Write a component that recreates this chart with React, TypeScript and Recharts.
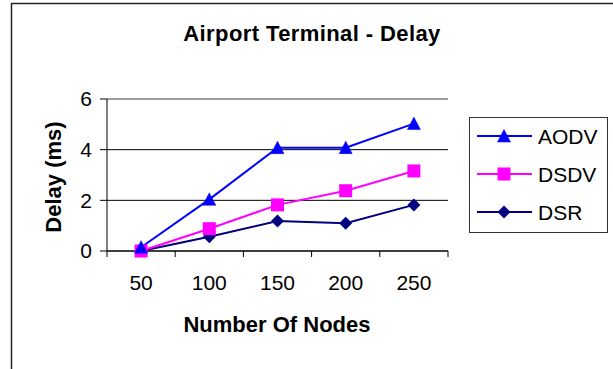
import React from 'react';
import {
  LineChart,
  Line,
  XAxis,
  YAxis,
  CartesianGrid,
  ReferenceLine,
  Legend,
} from 'recharts';

// values
const NODES = ['50', '100', '150', '200', '250'];
const AODV = [0.15, 2.04, 4.08, 4.08, 5.03];
const DSDV = [0, 0.88, 1.82, 2.38, 3.16];
const DSR = [0, 0.56, 1.18, 1.1, 1.82];
const Y_TICKS = [0, 2, 4, 6];

const SERIES = [
  { key: 'aodv', name: 'AODV', color: '#0000FF', shape: 'triangle' },
  { key: 'dsdv', name: 'DSDV', color: '#FF00FF', shape: 'square' },
  { key: 'dsr', name: 'DSR', color: '#000080', shape: 'diamond' },
];

const data = NODES.map((n, i) => ({ nodes: n, aodv: AODV[i], dsdv: DSDV[i], dsr: DSR[i] }));

const W = 613;
const H = 369;
const PLOT_LEFT = 107;
const PLOT_RIGHT = 448;
const PLOT_TOP = 99;
const PLOT_BOTTOM = 251;
const X_AXIS_H = 40;
const BAND = (PLOT_RIGHT - PLOT_LEFT) / NODES.length;
const FONT = '"Liberation Sans", Arial, sans-serif';

const Marker = ({ shape, cx, cy, color }: any) => {
  if (shape === 'triangle') {
    return (
      <polygon
        points={`${cx},${cy - 6.5} ${cx - 6.5},${cy + 6} ${cx + 6.5},${cy + 6}`}
        fill={color}
        stroke={color}
        strokeWidth={0.5}
      />
    );
  }
  if (shape === 'square') {
    return <rect x={cx - 6.5} y={cy - 6.5} width={13} height={13} fill={color} />;
  }
  return (
    <polygon
      points={`${cx},${cy - 6.5} ${cx + 6.5},${cy} ${cx},${cy + 6.5} ${cx - 6.5},${cy}`}
      fill={color}
    />
  );
};

const XTick = (props: any) => {
  const { x, index, payload } = props;
  const left = x - BAND / 2;
  return (
    <g>
      <line x1={left} y1={PLOT_BOTTOM} x2={left} y2={PLOT_BOTTOM + 6} stroke="#000" />
      {index === NODES.length - 1 && (
        <line x1={x + BAND / 2} y1={PLOT_BOTTOM} x2={x + BAND / 2} y2={PLOT_BOTTOM + 6} stroke="#000" />
      )}
      <text x={x} y={290} textAnchor="middle" fontSize={21} fill="#000" fontFamily={FONT}>
        {payload.value}
      </text>
    </g>
  );
};

const LegendBox = () => (
  <div
    style={{
      width: 139,
      height: 116,
      boxSizing: 'border-box',
      border: '1px solid #333',
      background: '#fff',
    }}
  >
    <svg width={137} height={114} style={{ display: 'block' }}>
      {SERIES.map((s, i) => {
        const y = 18 + i * 38;
        return (
          <g key={s.key}>
            <line x1={7} y1={y} x2={62} y2={y} stroke={s.color} strokeWidth={2} />
            <Marker shape={s.shape} cx={34} cy={y} color={s.color} />
            <text x={68} y={y + 7.5} fontSize={21} fill="#000" fontFamily={FONT}>
              {s.name}
            </text>
          </g>
        );
      })}
    </svg>
  </div>
);

export default function App() {
  // draw DSR first so AODV sits on top, like the original
  const drawOrder = [...SERIES].reverse();
  return (
    <div style={{ position: 'absolute', left: 0, top: 0, width: W, height: H, background: '#fff', fontFamily: FONT }}>
      <LineChart
        width={W}
        height={H}
        data={data}
        margin={{ top: PLOT_TOP, right: W - PLOT_RIGHT, bottom: H - PLOT_BOTTOM - X_AXIS_H, left: 0 }}
      >
        <CartesianGrid vertical={false} stroke="#000" />
        <ReferenceLine y={6} stroke="#c0c0c0" />
        <XAxis
          dataKey="nodes"
          height={X_AXIS_H}
          interval={0}
          padding={{ left: BAND / 2, right: BAND / 2 }}
          axisLine={{ stroke: '#000' }}
          tickLine={false}
          tick={(p: any) => <XTick {...p} />}
        />
        <YAxis
          type="number"
          domain={[0, 6]}
          ticks={Y_TICKS}
          width={PLOT_LEFT}
          tickSize={7}
          tickMargin={8}
          axisLine={{ stroke: '#000' }}
          tickLine={{ stroke: '#000' }}
          tick={{ fontSize: 21, fill: '#000', fontFamily: FONT }}
        />
        <YAxis
          yAxisId="frame"
          orientation="right"
          width={0}
          domain={[0, 6]}
          tick={false}
          tickLine={false}
          axisLine={{ stroke: '#c0c0c0' }}
        />
        {drawOrder.map((s) => (
          <Line
            key={s.key}
            dataKey={s.key}
            name={s.name}
            stroke={s.color}
            strokeWidth={2}
            isAnimationActive={false}
            activeDot={false}
            dot={(p: any) => (
              <g key={`${s.key}-${p.index}`}>
                <Marker shape={s.shape} cx={p.cx} cy={p.cy} color={s.color} />
              </g>
            )}
          />
        ))}
        <Legend
          layout="horizontal"
          align="center"
          verticalAlign="middle"
          content={() => <LegendBox />}
          wrapperStyle={{ left: 469, top: 117, width: 139, height: 116 }}
        />
      </LineChart>
      <svg
        width={W}
        height={H}
        style={{ position: 'absolute', left: 0, top: 0, pointerEvents: 'none' }}
      >
        <polyline points={`613,3.5 11.5,3.5 11.5,369`} fill="none" stroke="#222" strokeWidth={1.5} />
        <text x={312} y={41} textAnchor="middle" fontSize={22} fontWeight="bold" letterSpacing={0.4} fontFamily={FONT}>
          Airport Terminal - Delay
        </text>
        <text
          transform="translate(61, 177) rotate(-90)"
          textAnchor="middle"
          fontSize={22}
          fontWeight="bold"
          fontFamily={FONT}
        >
          Delay (ms)
        </text>
        <text x={277} y={332} textAnchor="middle" fontSize={22} fontWeight="bold" fontFamily={FONT}>
          Number Of Nodes
        </text>
      </svg>
    </div>
  );
}
